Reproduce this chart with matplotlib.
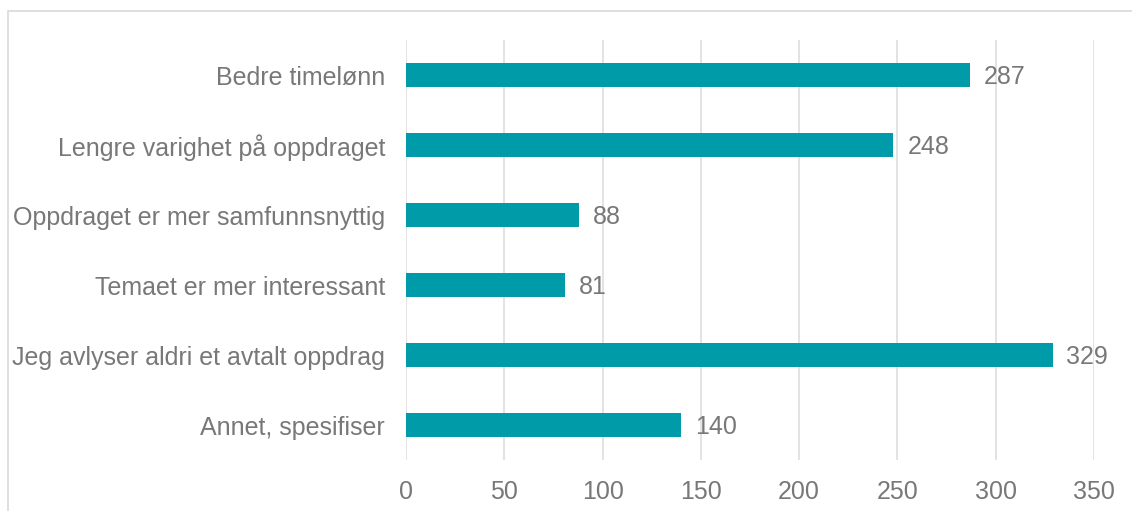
import matplotlib.pyplot as plt
from matplotlib.patches import Rectangle

categories = ["Bedre timelønn", "Lengre varighet på oppdraget", "Oppdraget er mer samfunnsnyttig",
              "Temaet er mer interessant", "Jeg avlyser aldri et avtalt oppdrag", "Annet, spesifiser"]
values = [287, 248, 88, 81, 329, 140]
xticks = [0, 50, 100, 150, 200, 250, 300, 350]

bar_color = "#009BA9"
text_color = "#787878"
grid_color = "#e0e0e0"

plt.rcParams['font.family'] = ['Liberation Sans', 'DejaVu Sans']

fig = plt.figure(figsize=(11.32, 5.11), dpi=100)
ax = fig.add_axes([406 / 1132, 1 - 460 / 511, (1094 - 406) / 1132, 420 / 511])

# outer chart border (cut off at right/bottom like in the source)
fig.patches.append(Rectangle((8 / 1132, -0.1), 1.2, 1 - 11 / 511 + 0.1, transform=fig.transFigure,
                             fill=False, edgecolor="#d9d9d9", linewidth=1.2))

ypos = list(range(len(categories)))
ax.barh(ypos, values, height=0.34, color=bar_color, zorder=3)
for y, v in zip(ypos, values):
    ax.text(v + 7, y + 0.03, str(v), va="center", ha="left", fontsize=18, color=text_color)

ax.set_xlim(0, 350)
ax.set_ylim(len(categories) - 0.5, -0.5)
ax.set_xticks(xticks)
ax.set_yticks(ypos)
ax.set_yticklabels(categories)
ax.tick_params(axis="both", length=0, labelsize=18, labelcolor=text_color)
ax.tick_params(axis="y", pad=15)
ax.tick_params(axis="x", pad=14.5)
ax.grid(axis="x", color=grid_color, linewidth=1.3, zorder=0)
for s in ax.spines.values():
    s.set_visible(False)

fig.savefig("out.png", dpi=100)
